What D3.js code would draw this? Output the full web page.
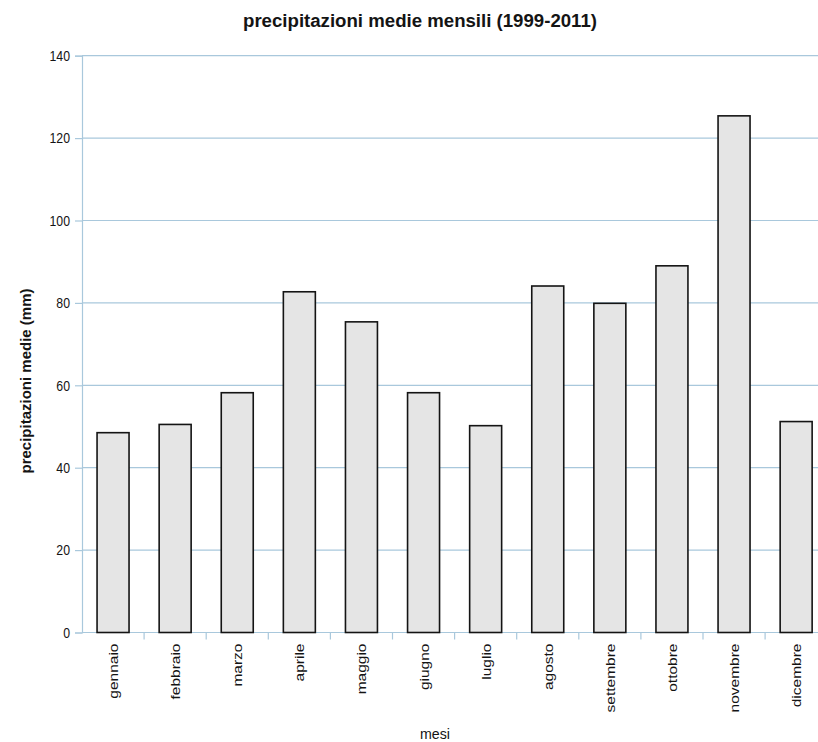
<!DOCTYPE html>
<html><head><meta charset="utf-8">
<script src="https://cdn.jsdelivr.net/npm/d3@7"></script>
<style>
html,body{margin:0;padding:0;background:#fff;}
svg{display:block;}
text{font-family:"Liberation Sans",Arial,sans-serif;}
</style></head>
<body>
<svg id="c" width="818" height="742"></svg>
<script>
const months = ["gennaio","febbraio","marzo","aprile","maggio","giugno","luglio","agosto","settembre","ottobre","novembre","dicembre"];
const rainfall = [48.5, 50.5, 58.2, 82.7, 75.4, 58.2, 50.2, 84.1, 79.9, 89.0, 125.4, 51.2];
const yTicks = [0, 20, 40, 60, 80, 100, 120, 140];
const chartTitle = "precipitazioni medie mensili (1999-2011)";
const yTitle = "precipitazioni medie (mm)";
const xTitle = "mesi";

const svg = d3.select("#c");
const x0 = 82, x1 = 82 + 12 * 62.1, yTop = 55.7, yBot = 632.5;
const grid = "#a9c8dc";
const ink = "#141414";

const x = d3.scaleBand().domain(months).range([x0, x1]).paddingInner(0.485).paddingOuter(0.2425);
const y = d3.scaleLinear().domain([0, 140]).range([yBot, yTop]);

// gridlines
svg.append("g").selectAll("line").data(yTicks).join("line")
  .attr("x1", x0).attr("x2", x1)
  .attr("y1", d => y(d)).attr("y2", d => y(d))
  .attr("stroke", grid).attr("stroke-width", 1.2);

// y axis
const yAxis = svg.append("g").attr("transform", `translate(${x0},0)`)
  .call(d3.axisLeft(y).tickValues(yTicks).tickSize(7).tickFormat(""));
yAxis.select(".domain").attr("stroke", grid).attr("stroke-width", 1.2);
yAxis.selectAll(".tick line").attr("stroke", grid).attr("stroke-width", 1.2);
// y tick labels (tall, condensed digits)
svg.append("g").selectAll("text").data(yTicks).join("text")
  .attr("transform", d => `translate(70,${y(d) + 5.3}) scale(0.82,1)`)
  .attr("text-anchor", "end")
  .attr("font-size", 15).attr("fill", ink)
  .text(d => d);

// bars
svg.append("g").selectAll("rect").data(months).join("rect")
  .attr("x", d => x(d))
  .attr("y", (d, i) => y(rainfall[i]))
  .attr("width", x.bandwidth())
  .attr("height", (d, i) => y(0) - y(rainfall[i]))
  .attr("fill", "#e5e5e5").attr("stroke", ink).attr("stroke-width", 1.6);

// x boundary ticks
const step = x.step();
svg.append("g").selectAll("line").data(d3.range(1, months.length + 1)).join("line")
  .attr("x1", i => x0 + i * step).attr("x2", i => x0 + i * step)
  .attr("y1", yBot).attr("y2", yBot + 7)
  .attr("stroke", grid).attr("stroke-width", 1.2);

// x labels
svg.append("g").selectAll("text").data(months).join("text")
  .attr("transform", d => `translate(${x(d) + x.bandwidth() / 2 + 5},${yBot + 11}) rotate(-90) scale(1.15,1)`)
  .attr("text-anchor", "end")
  .attr("font-size", 13.5).attr("fill", ink)
  .text(d => d);

// titles
svg.append("text").attr("x", 420).attr("y", 27).attr("text-anchor", "middle")
  .attr("font-size", 17.5).attr("font-weight", "bold").attr("fill", ink)
  .attr("textLength", 354).attr("lengthAdjust", "spacingAndGlyphs").text(chartTitle);

svg.append("text").attr("transform", `translate(31,381) rotate(-90)`).attr("text-anchor", "middle")
  .attr("font-size", 14).attr("font-weight", "bold").attr("fill", ink)
  .attr("textLength", 185).attr("lengthAdjust", "spacingAndGlyphs").text(yTitle);

svg.append("text").attr("x", 435).attr("y", 739).attr("text-anchor", "middle")
  .attr("font-size", 14).attr("fill", ink)
  .attr("textLength", 30).attr("lengthAdjust", "spacingAndGlyphs").text(xTitle);
</script>
</body></html>
